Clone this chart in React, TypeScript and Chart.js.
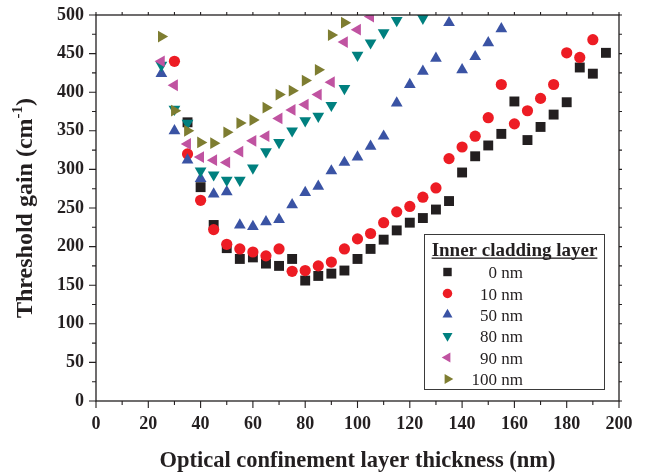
import React, { useEffect, useRef } from 'react';
import { Chart, registerables } from 'chart.js';

Chart.register(...registerables);

// ---- data (optical confinement layer thickness in nm, threshold gain in cm^-1) ----
const x0nm = [35, 40, 45, 50, 55, 60, 65, 70, 75, 80, 85, 90, 95, 100, 105, 110, 115, 120, 125, 130, 135, 140, 145, 150, 155, 160, 165, 170, 175, 180, 185, 190, 195];
const g0nm = [361, 277, 228, 198, 184, 186, 178, 175, 184, 156, 162, 165, 169, 184, 197, 209, 221, 231, 237, 248, 259, 296, 317, 331, 346, 388, 338, 355, 371, 387, 432, 424, 451];

const x10nm = [30, 35, 40, 45, 50, 55, 60, 65, 70, 75, 80, 85, 90, 95, 100, 105, 110, 115, 120, 125, 130, 135, 140, 145, 150, 155, 160, 165, 170, 175, 180, 185, 190];
const g10nm = [440, 320, 260, 222, 203, 197, 193, 188, 197, 168, 169, 175, 180, 197, 210, 217, 231, 245, 252, 264, 276, 314, 329, 343, 367, 410, 359, 376, 392, 410, 451, 445, 468];

const x50nm = [25, 30, 35, 40, 45, 50, 55, 60, 65, 70, 75, 80, 85, 90, 95, 100, 105, 110, 115, 120, 125, 130, 135, 140, 145, 150, 155];
const g50nm = [424, 350, 312, 288, 268, 271, 228, 226, 232, 235, 254, 270, 278, 298, 309, 316, 330, 343, 386, 410, 427, 444, 490, 429, 446, 464, 482];

const x80nm = [25, 30, 35, 40, 45, 50, 55, 60, 65, 70, 75, 80, 85, 90, 95, 100, 105, 110, 115, 125];
const g80nm = [435, 378, 360, 298, 293, 286, 286, 302, 323, 335, 350, 363, 369, 383, 405, 448, 464, 477, 493, 496];

const x90nm = [25, 30, 35, 40, 45, 50, 55, 60, 65, 70, 75, 80, 85, 90, 95, 100, 105];
const g90nm = [440, 409, 333, 316, 312, 309, 323, 337, 343, 366, 377, 384, 397, 413, 465, 481, 498];

const x100nm = [25, 30, 35, 40, 45, 50, 55, 60, 65, 70, 75, 80, 85, 90, 95];
const g100nm = [472, 376, 350, 335, 334, 348, 360, 364, 380, 397, 402, 415, 429, 474, 490];

const seriesLabels = ['0 nm', '10 nm', '50 nm', '80 nm', '90 nm', '100 nm'];
const legendTitle = 'Inner cladding layer';
const xTitle = 'Optical confinement layer thickness (nm)';
const yTitleMain = 'Threshold gain (cm';
const yTitleSup = '-1';
const yTitleEnd = ')';

// ---- styles ----
const INK = '#231f20';
const FONT = "'Liberation Serif', 'Times New Roman', serif";
const colors = ['#231f20', '#ed1c24', '#3a53a4', '#00807f', '#c053a1', '#7e7d31'];
const styles = ['rect', 'circle', 'triangle', 'triangle', 'triangle', 'triangle'];
const rotations = [0, 0, 0, 180, 270, 90];
const radii = [7, 5.6, 6.8, 6.8, 6.8, 6.8];

const xs = [x0nm, x10nm, x50nm, x80nm, x90nm, x100nm];
const gs = [g0nm, g10nm, g50nm, g80nm, g90nm, g100nm];

function drawMarker(ctx: CanvasRenderingContext2D, style: string, rot: number, x: number, y: number, r: number, color: string) {
  ctx.fillStyle = color;
  ctx.beginPath();
  if (style === 'circle') {
    ctx.arc(x, y, r, 0, Math.PI * 2);
  } else if (style === 'rect') {
    const s = Math.SQRT1_2 * r;
    ctx.rect(x - s, y - s, 2 * s, 2 * s);
  } else {
    let rad = (rot * Math.PI) / 180;
    ctx.moveTo(x + Math.sin(rad) * r, y - Math.cos(rad) * r);
    rad += (2 * Math.PI) / 3;
    ctx.lineTo(x + Math.sin(rad) * r, y - Math.cos(rad) * r);
    rad += (2 * Math.PI) / 3;
    ctx.lineTo(x + Math.sin(rad) * r, y - Math.cos(rad) * r);
    ctx.closePath();
  }
  ctx.fill();
}

const framePlugin = {
  id: 'frame',
  afterDraw(chart: any) {
    const { ctx, chartArea: a, scales } = chart;
    const xsc = scales.x;
    const ysc = scales.y;
    ctx.save();
    // ticks
    ctx.strokeStyle = INK;
    ctx.lineWidth = 1.1;
    ctx.beginPath();
    for (let v = xsc.min; v <= xsc.max; v += 10) {
      const px = xsc.getPixelForValue(v);
      const major = v % 20 === 0;
      ctx.moveTo(px, a.bottom);
      ctx.lineTo(px, a.bottom + (major ? 7 : 4));
      ctx.moveTo(px, a.top);
      ctx.lineTo(px, a.top - 3);
    }
    for (let v = ysc.min; v <= ysc.max; v += 25) {
      const py = ysc.getPixelForValue(v);
      const major = v % 50 === 0;
      ctx.moveTo(a.left, py);
      ctx.lineTo(a.left - (major ? 7 : 4), py);
      ctx.moveTo(a.right, py);
      ctx.lineTo(a.right + 3, py);
    }
    ctx.stroke();
    // frame
    ctx.lineWidth = 1.3;
    ctx.strokeRect(a.left, a.top, a.right - a.left, a.bottom - a.top);

    // x title
    ctx.fillStyle = INK;
    ctx.font = `bold 22.5px ${FONT}`;
    ctx.textAlign = 'center';
    ctx.textBaseline = 'middle';
    ctx.fillText(xTitle, (a.left + a.right) / 2, 461);

    // y title with superscript
    ctx.save();
    ctx.translate(24, (a.top + a.bottom) / 2);
    ctx.rotate(-Math.PI / 2);
    const mainFont = `bold 24px ${FONT}`;
    const supFont = `bold 15px ${FONT}`;
    ctx.font = mainFont;
    const w1 = ctx.measureText(yTitleMain).width;
    const w3 = ctx.measureText(yTitleEnd).width;
    ctx.font = supFont;
    const w2 = ctx.measureText(yTitleSup).width;
    const total = w1 + w2 + w3;
    let cx = -total / 2;
    ctx.textAlign = 'left';
    ctx.textBaseline = 'alphabetic';
    ctx.font = mainFont;
    ctx.fillText(yTitleMain, cx, 8);
    cx += w1;
    ctx.font = supFont;
    ctx.fillText(yTitleSup, cx, -2);
    cx += w2;
    ctx.font = mainFont;
    ctx.fillText(yTitleEnd, cx, 8);
    ctx.restore();

    // legend
    const bx = 424, by = 234, bw = 180, bh = 155;
    ctx.fillStyle = '#ffffff';
    ctx.fillRect(bx, by, bw, bh);
    ctx.strokeStyle = '#3a3a3a';
    ctx.lineWidth = 1;
    ctx.strokeRect(bx + 0.5, by + 0.5, bw, bh);
    ctx.fillStyle = INK;
    ctx.font = `bold 19px ${FONT}`;
    ctx.textAlign = 'center';
    ctx.textBaseline = 'alphabetic';
    const tcx = bx + bw / 2 + 0.5;
    ctx.fillText(legendTitle, tcx, 256);
    const tw = ctx.measureText(legendTitle).width;
    ctx.fillRect(tcx - tw / 2, 257.5, tw, 1.3);
    ctx.font = `17px ${FONT}`;
    ctx.textAlign = 'right';
    const rowY = [272, 293.5, 314.5, 336, 357.5, 379];
    for (let i = 0; i < seriesLabels.length; i++) {
      const y = rowY[i];
      drawMarker(ctx, styles[i], rotations[i], 447.5, y, radii[i] * 0.85, colors[i]);
      ctx.fillStyle = INK;
      ctx.fillText(seriesLabels[i], 523, y + 6);
    }
    ctx.restore();
  },
};

export default function App() {
  const ref = useRef<HTMLCanvasElement | null>(null);
  useEffect(() => {
    if (!ref.current) return;
    const datasets = seriesLabels.map((label, i) => ({
      label,
      data: xs[i].map((x, j) => ({ x, y: gs[i][j] })),
      pointStyle: styles[i],
      rotation: rotations[i],
      pointRotation: rotations[i],
      pointRadius: radii[i],
      pointHoverRadius: radii[i],
      backgroundColor: colors[i],
      borderColor: colors[i],
      pointBorderWidth: 0,
      borderWidth: 0,
      showLine: false,
      order: seriesLabels.length - i,
    }));
    const zeroPad = (s: any) => {
      s.paddingTop = 0;
      s.paddingBottom = 0;
      s.paddingLeft = 0;
      s.paddingRight = 0;
    };
    const chart = new Chart(ref.current, {
      type: 'scatter',
      data: { datasets },
      options: {
        animation: false,
        responsive: false,
        devicePixelRatio: 1,
        layout: { padding: { top: 15, right: 26, bottom: 0, left: 0 } },
        plugins: { legend: { display: false }, tooltip: { enabled: false } },
        scales: {
          x: {
            type: 'linear',
            min: 0,
            max: 200,
            grid: { display: false, drawTicks: false },
            border: { display: false },
            ticks: { stepSize: 20, padding: 13, color: INK, font: { family: FONT, size: 18, weight: 'bold' } },
            afterFit: (s: any) => { s.height = 74; zeroPad(s); },
          },
          y: {
            type: 'linear',
            min: 0,
            max: 500,
            grid: { display: false, drawTicks: false },
            border: { display: false },
            ticks: { stepSize: 50, padding: 12, color: INK, font: { family: FONT, size: 18, weight: 'bold' } },
            afterFit: (s: any) => { s.width = 96; zeroPad(s); },
          },
        },
      },
      plugins: [framePlugin],
    } as any);
    return () => chart.destroy();
  }, []);
  return (
    <div style={{ position: 'fixed', left: 0, top: 0, width: 645, height: 475, background: '#fff' }}>
      <canvas ref={ref} width={645} height={475} />
    </div>
  );
}
